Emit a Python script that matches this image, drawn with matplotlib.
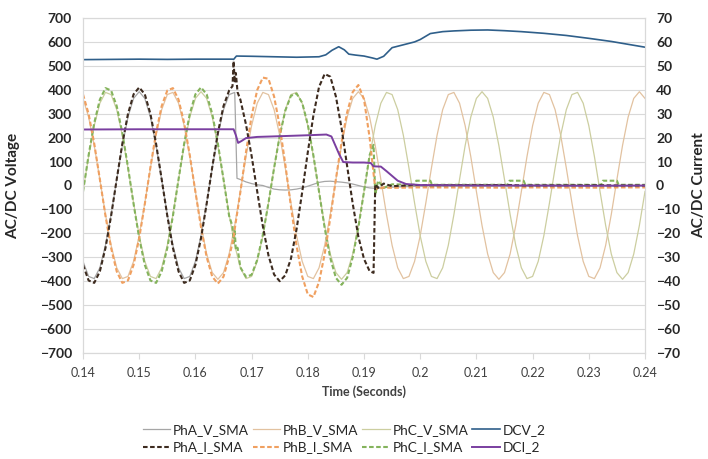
import matplotlib
matplotlib.use("Agg")
import matplotlib.pyplot as plt
import numpy as np

plt.rcParams['font.family'] = ['Lato', 'DejaVu Sans']

# ---------------- data (time in ms) ----------------
t_grid = list(range(140, 241))  # 1 ms grid for phase B / C voltages

PhB_V = [364, 286, 167, 25, -121, -250, -344, -389, -380, -317,
         -210, -73, 73, 210, 317, 380, 389, 344, 250, 121, -25, -167, -286, -364, -392,
         -364, -286, -167, -25, 121, 250, 344, 389, 380, 317, 210, 73, -73, -210, -317,
         -380, -389, -344, -250, -121, 25, 167, 286, 364, 392, 364, 286, 167, 25, -121,
         -250, -344, -389, -380, -317,
         -210, -73, 73, 210, 317, 380, 389, 344, 250, 121, -25, -167, -286, -364, -392,
         -364, -286, -167, -25, 121, 250, 344, 389, 380, 317, 210, 73, -73, -210, -317,
         -380, -389, -344, -250, -121, 25, 167, 286, 364, 392, 364]

PhC_V = [-25, 121, 250, 344, 389, 380, 317, 210, 73, -73,
         -210, -317, -380, -389, -344, -250, -121, 25, 167, 286, 364, 392, 364, 286, 167,
         25, -121, -250, -344, -389, -380, -317, -210, -73, 73, 210, 317, 380, 389, 344,
         250, 121, -25, -167, -286, -364, -392, -364, -286, -167, -25, 121, 250, 344, 389,
         380, 317, 210, 73, -73,
         -210, -317, -380, -389, -344, -250, -121, 25, 167, 286, 364, 392, 364, 286, 167,
         25, -121, -250, -344, -389, -380, -317, -210, -73, 73, 210, 317, 380, 389, 344,
         250, 121, -25, -167, -286, -364, -392, -364, -286, -167, -25]

t_pha_v = list(range(140, 168)) + [167.4, 168, 169, 170, 171, 172, 173, 174, 175, 176, 177,
                                   178, 179, 180, 181, 182, 183, 184, 185, 186, 187, 188,
                                   189, 190, 191, 192, 194, 197, 200, 210, 220, 230, 240]
PhA_V = [-317, -380, -389, -344, -250, -121, 25, 167, 286, 364, 392, 364, 286, 167, 25,
         -121, -250, -344, -389, -380, -317, -210, -73, 73, 210, 317, 380, 389,
         30, 25, 15, 8, 3, 0, -8, -15, -18, -19, -18, -15, -10, -3, 5, 13, 17, 18, 16,
         14, 11, 6, 0, -6, -10, -12, -8, -5, -3, -2, -2, -1, -1]

t_cur = (list(range(140, 167)) + [166.6, 166.8, 167.0, 167.2, 167.5] + list(range(168, 192)) +
         [191.7, 192.0, 192.5, 193.5, 195, 199, 199.3, 201.8, 202.1, 215.6, 215.9, 218.4,
          218.7, 232.2, 232.5, 235, 235.3, 240])

PhA_I = [-33.2, -39.7, -40.7, -35.9, -26.1, -12.7, 2.6, 17.5, 29.9, 38.1, 41.0, 38.1, 29.9,
         17.5, 2.6, -12.7, -26.1, -35.9, -40.7, -39.7, -33.2, -22.0, -7.7, 7.7, 22.0, 33.2, 39.7,
         41.5, 52.0, 43.0, 47.0, 39.0,
         35.9, 25.5, 12.4, -2.5, -17.0, -29.2, -37.2, -40.0, -37.5, -30.6, -18.3, -2.8, 13.9,
         29.3, 41.2, 46.6, 45.5, 37.2, 24.1, 8.1, -7.7, -21.4, -30.7, -35.8,
         -36.5, 0.5, -1.0, 0.8, -0.3, 0.2, 0.2, 0.1, 0.1, 0.2, 0.2, 0.0, 0.0, 0.1, 0.1, 0.0, 0.0, 0.0]

PhB_I = [38.1, 29.9, 17.5, 2.6, -12.7, -26.1, -35.9, -40.7, -39.7, -33.2, -22.0, -7.7, 7.7,
         22.0, 33.2, 39.7, 40.7, 35.9, 26.1, 12.7, -2.6, -17.5, -29.9, -38.1, -41.0, -38.1, -29.9,
         -24.0, -21.5, -18.3, -15.0, -10.5,
         -2.8, 13.9, 29.0, 39.9, 45.1, 44.6, 37.2, 24.9, 8.8, -8.8, -25.2, -38.0, -45.5, -46.6,
         -40.3, -28.7, -13.6, 2.7, 17.9, 30.6, 39.1, 42.0, 36.0, 20.0,
         5.0, -1.0, -1.5, -0.8, -1.0, -0.8, -0.8, -0.8, -0.8, -0.9, -0.9, -0.8, -0.8, -0.9, -0.9,
         -0.8, -0.8, -0.8]

PhC_I = [-2.6, 12.7, 26.1, 35.9, 40.7, 39.7, 33.2, 22.0, 7.7, -7.7, -22.0, -33.2, -39.7,
         -40.7, -35.9, -26.1, -12.7, 2.6, 17.5, 29.9, 38.1, 41.0, 38.1, 29.9, 17.5, 2.6, -12.7,
         -17.0, -24.0, -19.0, -27.0, -26.0,
         -34.2, -38.2, -37.3, -31.1, -20.6, -7.3, 7.3, 20.7, 31.3, 37.5, 38.4, 34.6, 25.5, 12.5,
         -2.6, -17.7, -30.3, -38.6, -41.5, -38.6, -29.9, -17.5, -2.6, 12.7,
         17.0, -4.0, 2.0, -1.0, 0.5, 0.3, 2.0, 2.0, 0.3, 0.3, 2.0, 2.0, 0.3, 0.3, 2.0, 2.0, 0.3, 0.3]

t_dcv = [140, 145, 150, 155, 160, 166.6, 166.8, 167.3, 170, 174, 178, 182, 183.2, 184.3,
         185.5, 186.5, 187.3, 188.5, 190, 191.5, 192.3, 193.5, 195, 197, 199, 200, 201.8,
         204, 206, 209, 212, 215, 218, 222, 226, 230, 234, 237, 240]
DCV_2 = [526, 527, 528, 527, 528, 528, 527, 541, 540, 538, 536, 538, 546, 565,
         580, 567, 549, 545, 541, 533, 528, 540, 576, 588, 600, 610, 635,
         643, 646, 649, 650, 647, 643, 636, 627, 615, 602, 590, 578]

t_dci = [140, 150, 160, 166.8, 167.2, 167.6, 168.2, 169, 171, 175, 180, 183.3, 184.2, 185.5,
         186.3, 188, 190, 191.2, 191.7, 193, 194, 195, 196, 197.5, 200, 210, 220, 230, 240]
DCI_2 = [23.4, 23.5, 23.5, 23.5, 21.0, 17.8, 18.6, 19.8, 20.3, 20.6, 21.0, 21.3, 20.5, 13.5,
         9.8, 9.6, 9.6, 9.4, 8.0, 7.9, 6.0, 4.0, 2.0, 0.6, 0.2, 0.0, 0.0, -0.1, 0.0]

x_ticks = [0.14, 0.15, 0.16, 0.17, 0.18, 0.19, 0.2, 0.21, 0.22, 0.23, 0.24]
x_tick_labels = ['0.14', '0.15', '0.16', '0.17', '0.18', '0.19', '0.2', '0.21', '0.22', '0.23', '0.24']
v_ticks = list(range(-700, 701, 100))
i_ticks = list(range(-70, 71, 10))

def sec(ms):
    return np.asarray(ms, dtype=float) / 1000.0

# ---------------- figure ----------------
fig = plt.figure(figsize=(7.08, 4.59), dpi=100)
ax = fig.add_axes([83 / 708, 1 - 353 / 459, (645 - 83) / 708, (353 - 18) / 459])
ax2 = ax.twinx()

dash = (0, (2.2, 1.2))
h_av, = ax.plot(sec(t_pha_v), PhA_V, color='#a6a6a6', lw=0.9, label='PhA_V_SMA')
h_bv, = ax.plot(sec(t_grid), PhB_V, color='#e2c2a0', lw=0.9, label='PhB_V_SMA')
h_cv, = ax.plot(sec(t_grid), PhC_V, color='#cccea0', lw=0.9, label='PhC_V_SMA')
h_dcv, = ax.plot(sec(t_dcv), DCV_2, color='#2f5f8a', lw=1.2, label='DCV_2')

h_ci, = ax2.plot(sec(t_cur), PhC_I, color='#84b35c', lw=1.5, ls=dash, label='PhC_I_SMA')
h_bi, = ax2.plot(sec(t_cur), PhB_I, color='#f0a060', lw=1.5, ls=dash, label='PhB_I_SMA')
h_ai, = ax2.plot(sec(t_cur), PhA_I, color='#3d2b1f', lw=1.5, ls=dash, label='PhA_I_SMA')
h_dci, = ax2.plot(sec(t_dci), DCI_2, color='#7a3fa0', lw=1.4, label='DCI_2')

ax.set_xlim(0.14, 0.24)
ax.set_ylim(-700, 700)
ax2.set_ylim(-70, 70)
ax.set_yticks(v_ticks)
ax2.set_yticks(i_ticks)
ax.set_xticks(x_ticks)
ax.set_xticklabels(x_tick_labels)

ax.grid(axis='y', color='#d9d9d9', lw=0.8)
ax.set_axisbelow(True)
for a in (ax, ax2):
    for s in a.spines.values():
        s.set_color('#d9d9d9')
        s.set_linewidth(0.8)

ax.tick_params(axis='y', length=0, pad=8, labelsize=10, labelcolor='#262626')
ax2.tick_params(axis='y', length=0, pad=8, labelsize=10, labelcolor='#262626')
for lab in ax.get_yticklabels() + ax2.get_yticklabels():
    lab.set_fontweight('bold')
ax.tick_params(axis='x', length=4, width=0.8, color='#d9d9d9', pad=6, labelsize=9,
               labelcolor='#404040')

ax.set_ylabel('AC/DC Voltage', fontsize=11, fontweight='bold', color='#262626')
ax2.set_ylabel('AC/DC Current', fontsize=11, fontweight='bold', color='#262626')
ax.yaxis.set_label_coords(-0.112, 0.5)
ax2.yaxis.set_label_coords(1.084, 0.5)
ax2.yaxis.label.set_rotation(90)
ax.set_xlabel('Time (Seconds)', fontsize=9, fontweight='bold', color='#404040')
ax.xaxis.set_label_coords(0.5, -0.095)

handles = [h_av, h_ai, h_bv, h_bi, h_cv, h_ci, h_dcv, h_dci]
fig.legend(handles=handles, labels=[h.get_label() for h in handles], ncol=4,
           loc='center', bbox_to_anchor=(0.486, 0.044), frameon=False,
           fontsize=9.8, handlelength=2.0, handletextpad=0.2, columnspacing=0.3,
           labelspacing=0.4, labelcolor='#262626')

fig.savefig('out.png', dpi=100)
